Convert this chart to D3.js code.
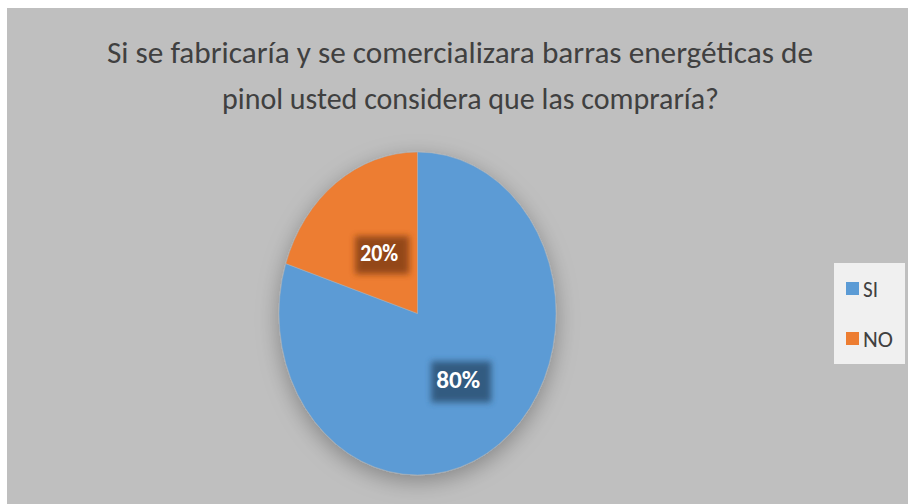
<!DOCTYPE html>
<html><head><meta charset="utf-8">
<script src="https://cdn.jsdelivr.net/npm/d3@7"></script>
<style>body{margin:0;background:#fff}svg{display:block}</style>
</head><body>
<svg id="c" width="908" height="504"></svg>
<script>
const categories = ["SI", "NO"];
const values = [80, 20];
const labels = ["80%", "20%"];
const colors = ["#5b9bd5", "#ed7d31"];
const glowColors = ["#2f5578", "#8a4316"];
const titleLines = ["Si se fabricaría y se comercializara barras energéticas de", "pinol usted considera que las compraría?"];

const svg = d3.select("#c");
const defs = svg.append("defs");
const sh = defs.append("filter").attr("id","shadow").attr("x","-30%").attr("y","-30%").attr("width","160%").attr("height","160%");
sh.append("feDropShadow").attr("dx",0).attr("dy",6).attr("stdDeviation",11).attr("flood-color","#000").attr("flood-opacity",0.3);
const gl = defs.append("filter").attr("id","glow").attr("x","-50%").attr("y","-50%").attr("width","200%").attr("height","200%");
gl.append("feGaussianBlur").attr("stdDeviation",3);

svg.append("rect").attr("x",7).attr("y",8).attr("width",901).attr("height",496).attr("fill","#bfbfbf");

const font = "Carlito, Lato, 'Open Sans', sans-serif";
const titleX = [107, 222], titleW = [706, 497];
svg.selectAll("text.title").data(titleLines).enter().append("text")
  .attr("class","title")
  .attr("x",(d,i)=>titleX[i]).attr("y",(d,i)=>63+i*46)
  .attr("fill","#404040").attr("font-family",font).attr("font-size",31)
  .attr("textLength",(d,i)=>titleW[i]).attr("lengthAdjust","spacingAndGlyphs")
  .text(d=>d);

const cx = 417.5, cy = 313.5, rx = 138.5, ry = 161.5;
const pie = d3.pie().sort(null).value(d=>d)(values);
const arc = d3.arc().innerRadius(0).outerRadius(ry);
const g = svg.append("g").attr("transform",`translate(${cx},${cy})`);
const pg = g.append("g").attr("filter","url(#shadow)").append("g").attr("transform",`scale(${rx/ry},1)`);
pg.selectAll("path").data(pie).enter().append("path")
  .attr("d",arc).attr("fill",(d,i)=>colors[i])
  .attr("stroke","#a9b3bd").attr("stroke-width",0.6);

const lr = [0.5, 0.47];
const bw = [64, 58], bh = [45, 42], lw = [44, 38];
pie.forEach((d,i)=>{
  const a = (d.startAngle + d.endAngle)/2;
  const x = Math.sin(a)*rx*lr[i];
  const y = -Math.cos(a)*ry*lr[i];
  g.append("rect").attr("x",x-bw[i]/2+5).attr("y",y-bh[i]/2+5).attr("width",bw[i]-4).attr("height",bh[i]-4)
    .attr("fill",glowColors[i]).attr("opacity",0.9).attr("filter","url(#glow)");
  g.append("text").attr("x",x-lw[i]/2).attr("y",y).attr("dy","0.36em")
    .attr("fill","#fff").attr("font-family",font).attr("font-weight","bold").attr("font-size",25)
    .attr("textLength",lw[i]).attr("lengthAdjust","spacingAndGlyphs")
    .text(labels[i]);
});

const lg = svg.append("g");
lg.append("rect").attr("x",834).attr("y",263).attr("width",71).attr("height",101).attr("fill","#f0f0f0");
const legW = [15, 30];
categories.forEach((c,i)=>{
  const y = 289 + i*50;
  lg.append("rect").attr("x",846).attr("y",y-7).attr("width",13).attr("height",13).attr("fill",colors[i]);
  lg.append("text").attr("x",863).attr("y",y).attr("dy","0.36em").attr("fill","#404040")
    .attr("font-family",font).attr("font-size",22)
    .attr("textLength",legW[i]).attr("lengthAdjust","spacingAndGlyphs").text(c);
});
</script>
</body></html>
